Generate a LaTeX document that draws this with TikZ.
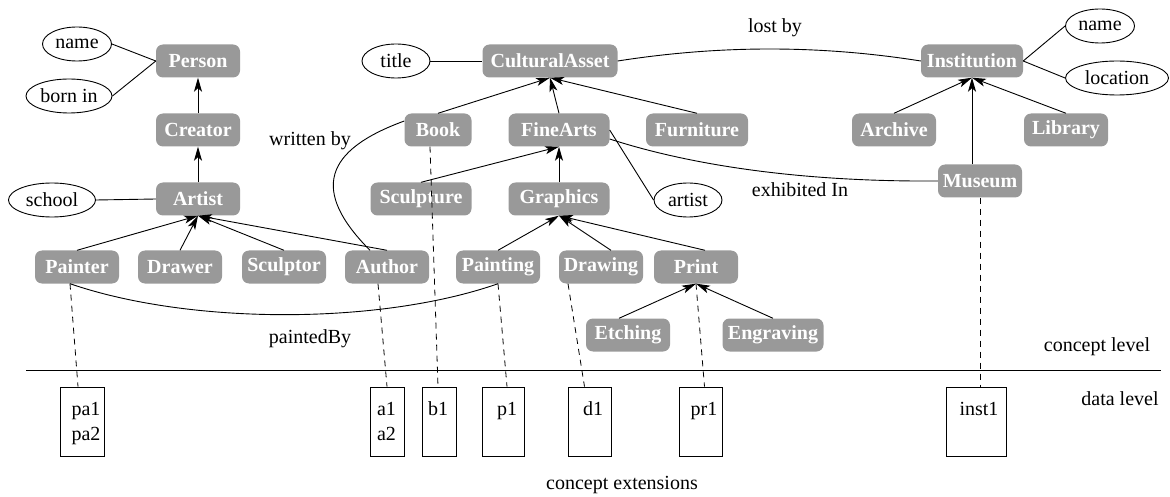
\documentclass[tikz,border=0pt]{standalone}
\usepackage{fontspec}
\setmainfont{Liberation Serif}
\usetikzlibrary{shapes.geometric,arrows.meta}
\definecolor{conceptgray}{RGB}{153,153,153}
\begin{document}
\begin{tikzpicture}[x=1pt,y=-1pt,
  font=\fontsize{20}{24}\selectfont,
  concept/.style={rectangle, rounded corners=7pt, fill=conceptgray, text=white,
    font=\fontsize{20}{24}\selectfont\bfseries,
    minimum width=84pt, minimum height=33pt, inner sep=0pt},
  attr/.style={ellipse, draw, line width=0.9pt, minimum height=34pt,
    minimum width=69pt, inner sep=0pt},
  isa/.style={-{Stealth[length=14pt,width=8pt,inset=3.5pt]}, line width=0.9pt},
  rel/.style={line width=0.9pt},
  inst/.style={dash pattern=on 6pt off 5pt, line width=0.8pt},
  extbox/.style={draw, line width=0.9pt, minimum height=69pt, inner sep=0pt},
  lbl/.style={inner sep=0pt},
  ext/.style={inner sep=0pt, anchor=base}
]
\useasboundingbox (0,0) rectangle (1170,497);

% person hierarchy
\node[concept] (person) at (198,61) {Person};
\node[concept] (creator) at (198,130) {Creator};
\node[concept] (artist) at (198,199) {Artist};
\node[concept] (painter) at (77,267) {Painter};
\node[concept] (drawer) at (180,267) {Drawer};
\node[concept] (sculptor) at (284,267) {Sculptor};
\node[concept] (author) at (387,267) {Author};

% cultural assets
\node[concept, minimum width=135pt] (asset) at (550,61) {CulturalAsset};
\node[concept, minimum width=67pt] (book) at (438,130) {Book};
\node[concept, minimum width=101pt] (finearts) at (559,130) {FineArts};
\node[concept, minimum width=102pt] (furniture) at (697,130) {Furniture};
\node[concept, minimum width=101pt] (sculpture) at (421,199) {Sculpture};
\node[concept, minimum width=101pt] (graphics) at (559,199) {Graphics};
\node[concept] (painting) at (498,267) {Painting};
\node[concept] (drawing) at (601,267) {Drawing};
\node[concept] (print) at (696,267) {Print};
\node[concept] (etching) at (628,335) {Etching};
\node[concept, minimum width=101pt] (engraving) at (773,335) {Engraving};

% institutions
\node[concept, minimum width=102pt] (institution) at (972,61) {Institution};
\node[concept] (archive) at (894,130) {Archive};
\node[concept] (library) at (1066,130) {Library};
\node[concept] (museum) at (980,181) {Museum};

% attributes
\node[attr] (pname) at (77,44) {name};
\node[attr, minimum width=86pt] (born) at (69,96) {born in};
\node[attr, minimum width=87pt] (school) at (52,200) {school};
\node[attr, minimum width=68pt] (title) at (396,61) {title};
\node[attr, minimum width=68pt] (artistattr) at (688,200) {artist};
\node[attr] (iname) at (1100,26) {name};
\node[attr, minimum width=103pt] (location) at (1117,78) {location};

\draw[rel] (pname.east) -- (person.west);
\draw[rel] (born.east) -- (person.west);
\draw[rel] (school.east) -- (artist.west);
\draw[rel] (title.east) -- (asset.west);
\draw[rel] (finearts.east) -- (artistattr.west);
\draw[rel] (institution.east) -- (iname.west);
\draw[rel] (institution.east) -- (location.west);

% is-a links
\draw[isa] (creator.north) -- (person.south);
\draw[isa] (artist.north) -- (creator.south);
\foreach \n in {painter,drawer,sculptor,author}
  \draw[isa] (\n.north) -- (artist.south);
\draw[isa] (book.north) -- (asset.south);
\draw[isa] (finearts.north) -- (asset.south);
\draw[isa] (furniture.north) -- (asset.south);
\draw[isa] (sculpture.north) -- (finearts.south);
\draw[isa] (graphics.north) -- (finearts.south);
\draw[isa] (painting.north) -- (graphics.south);
\draw[isa] ([xshift=10pt]drawing.north) -- (graphics.south);
\draw[isa] ([xshift=9pt]print.north) -- (graphics.south);
\draw[isa] ([xshift=-9pt]etching.north) -- (print.south);
\draw[isa] (engraving.north) -- (print.south);
\draw[isa] (archive.north) -- (institution.south);
\draw[isa] (library.north) -- (institution.south);
\draw[isa] (museum.north -| institution.south) -- (institution.south);

% relations
\draw[rel] (asset.east) .. controls (720,45) and (820,45) .. (institution.west);
\node[lbl] (lostby) at (775,28) {lost by};
\draw[rel] ([yshift=-9pt]finearts.east) .. controls (690,165) and (800,182) .. (museum.west);
\node[lbl] (exhibited) at (800,190) {exhibited In};
\draw[rel] ([xshift=-17pt]author.north) .. controls (310,190) and (325,150) .. ([yshift=9pt]book.west);
\node[lbl] (writtenby) at (310,141) {written by};
\draw[rel] ([xshift=-7pt]painter.south) .. controls (190,325) and (380,325) .. (painting.south);
\node[lbl] (paintedby) at (310,339) {paintedBy};

% level separator
\coordinate (levl) at (26,370);
\coordinate (levr) at (1161,370);
\draw[rel] (levl) -- (levr);
\node[lbl] (conceptlevel) at (1097,347) {concept level};
\node[lbl] (datalevel) at (1120,399) {data level};
\node[lbl] (extensions) at (622,485) {concept extensions};

% extension boxes
\node[extbox, minimum width=44pt] (pa) at (82,421.5) {};
\node[extbox, minimum width=34pt] (a) at (387,421.5) {};
\node[extbox, minimum width=34pt] (b) at (439,421.5) {};
\node[extbox, minimum width=42pt] (p) at (503,421.5) {};
\node[extbox, minimum width=43pt] (d) at (589.5,421.5) {};
\node[extbox, minimum width=43pt] (pr) at (700.5,421.5) {};
\node[extbox, minimum width=60pt] (in) at (976,421.5) {};

\node[ext] at (86,415) {pa1};
\node[ext] at (86,440) {pa2};
\node[ext] at (386.5,415) {a1};
\node[ext] at (386.5,440) {a2};
\node[ext] at (438,415) {b1};
\node[ext] at (507,415) {p1};
\node[ext] at (593,415) {d1};
\node[ext] at (704,415) {pr1};
\node[ext] at (979,415) {inst1};

% instance links
\draw[inst] ([xshift=-7pt]painter.south) -- ([xshift=-4pt]pa.north);
\draw[inst] ([xshift=-9pt]author.south) -- (a.north);
\draw[inst] ([xshift=-8pt]book.south) -- ([xshift=-1pt]b.north);
\draw[inst] (painting.south) -- ([xshift=4pt]p.north);
\draw[inst] ([xshift=-33pt]drawing.south) -- ([xshift=-5pt]d.north);
\draw[inst] (print.south) -- ([xshift=4pt]pr.north);
\draw[inst] (museum.south) -- ([xshift=4pt]in.north);
\end{tikzpicture}
\end{document}
